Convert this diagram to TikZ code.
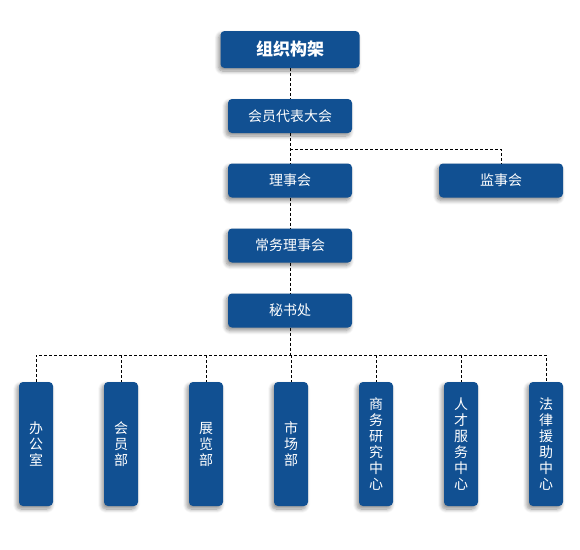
\documentclass[tikz,border=0pt]{standalone}
\usepackage{fontspec}
\setmainfont{Noto Sans CJK SC}
\usetikzlibrary{shadows.blur}
\definecolor{boxblue}{RGB}{17,80,146}
\tikzset{
  box/.style={fill=boxblue, rounded corners=4pt, text=white, inner sep=0pt,
    blur shadow={shadow xshift=-2pt, shadow yshift=-3pt, shadow blur steps=8, shadow opacity=45, shadow blur radius=4pt}},
  hbox/.style={box, minimum width=124pt, minimum height=34pt, font=\fontsize{14}{16}\selectfont},
  titlebox/.style={box, minimum width=139pt, minimum height=37pt, font=\fontsize{17}{20}\selectfont\bfseries},
  vbox/.style={box, minimum width=34pt, minimum height=124pt, align=center, font=\fontsize{14}{16}\selectfont},
  conn/.style={draw=black, line width=0.8pt, dash pattern=on 3pt off 2pt}
}
\begin{document}
\begin{tikzpicture}[x=1pt,y=1pt]
\useasboundingbox (0,0) rectangle (580,-549);
\node[titlebox] (top) at (290,-49.5) {组织构架};
\node[hbox] (hy) at (290,-116) {会员代表大会};
\node[hbox] (ls) at (290,-180.5) {理事会};
\node[hbox] (js) at (501,-180.5) {监事会};
\node[hbox] (cw) at (290,-245.5) {常务理事会};
\node[hbox] (ms) at (290,-310.5) {秘书处};
\node[vbox] (b1) at (36,-444) {办\\公\\室};
\node[vbox] (b2) at (121,-444) {会\\员\\部};
\node[vbox] (b3) at (206,-444) {展\\览\\部};
\node[vbox] (b4) at (291,-444) {市\\场\\部};
\node[vbox] (b5) at (376,-444) {商\\务\\研\\究\\中\\心};
\node[vbox] (b6) at (461,-444) {人\\才\\服\\务\\中\\心};
\node[vbox] (b7) at (546,-444) {法\\律\\援\\助\\中\\心};
\coordinate (br) at (290,-149);
\coordinate (bus) at (290,-355);
\draw[conn] (top.south) -- (hy.north);
\draw[conn] (hy.south) -- (ls.north);
\draw[conn] (br) -| (js.north);
\draw[conn] (ls.south) -- (cw.north);
\draw[conn] (cw.south) -- (ms.north);
\draw[conn] (ms.south) -- (bus);
\draw[conn] (b1.north) -- (b1.north |- bus) -- (b7.north |- bus) -- (b7.north);
\foreach \i in {2,...,6} { \draw[conn] (b\i.north |- bus) -- (b\i.north); }
\end{tikzpicture}
\end{document}
